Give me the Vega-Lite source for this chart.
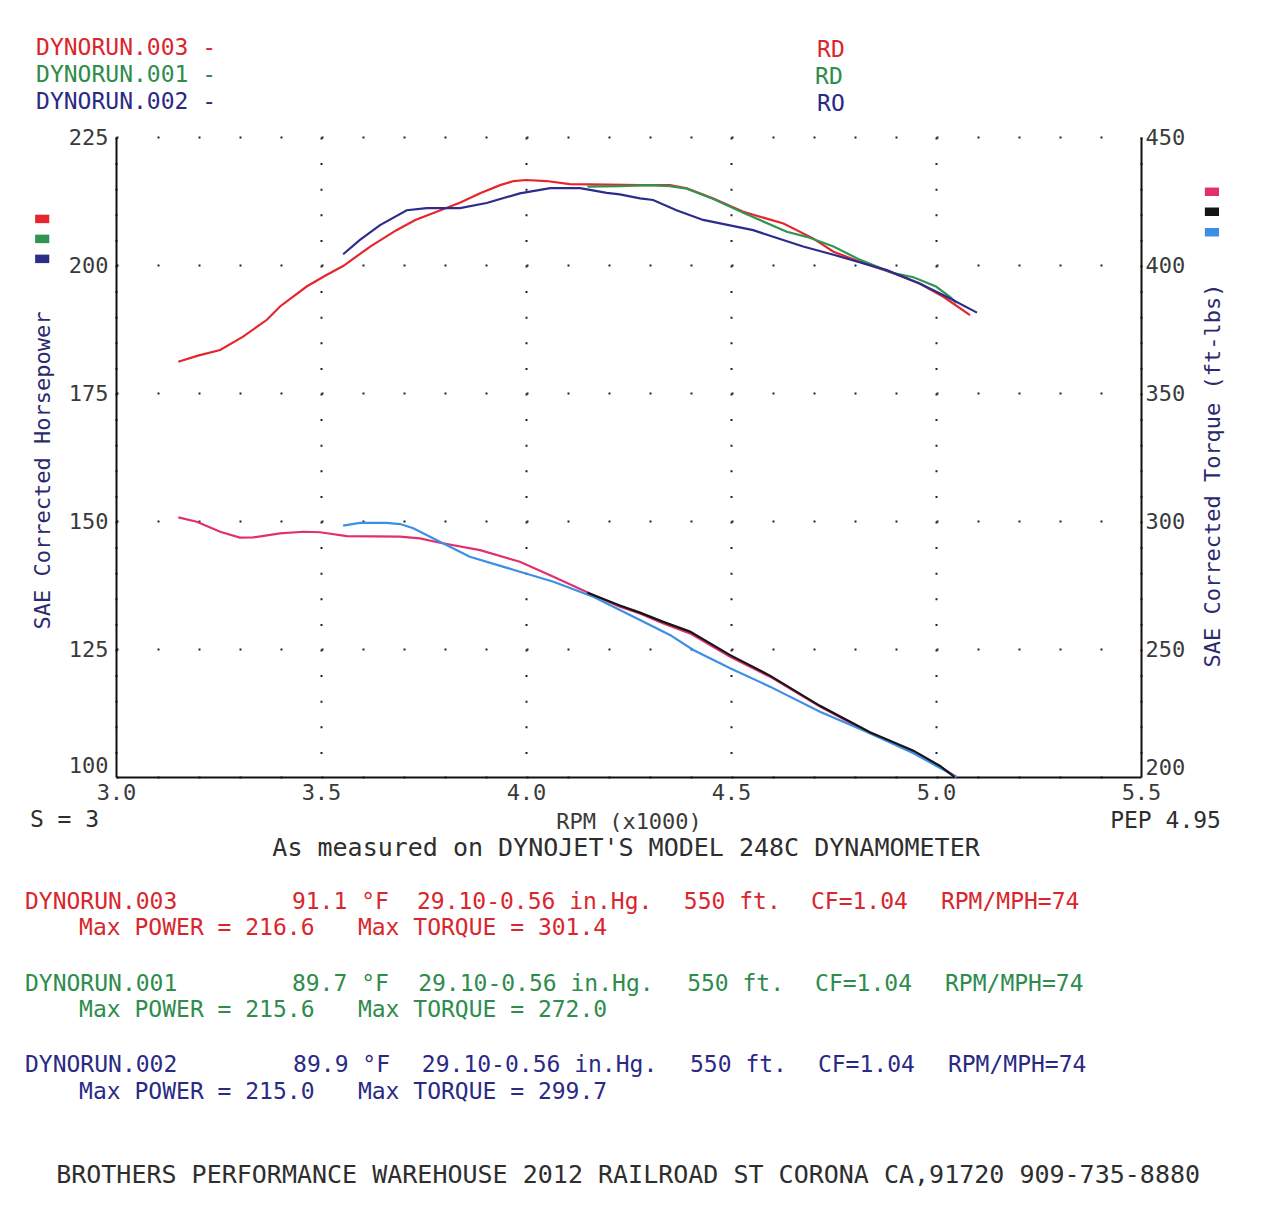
{
  "$schema": "https://vega.github.io/schema/vega-lite/v6.json",
  "width": 1025,
  "height": 640,
  "autosize": "none",
  "padding": {"left": 116, "top": 137, "right": 130, "bottom": 452},
  "background": "white",
  "config": {
    "view": {"stroke": null},
    "font": "DejaVu Sans Mono",
    "axis": {
      "labelFont": "DejaVu Sans Mono",
      "titleFont": "DejaVu Sans Mono",
      "labelFontSize": 22,
      "titleFontSize": 22,
      "titleFontWeight": "normal",
      "labelColor": "#3a3a3a",
      "titleColor": "#2a2a6e",
      "domainColor": "#111111",
      "domainWidth": 2,
      "ticks": false,
      "labelFlush": false,
      "labelOverlap": false
    }
  },
  "datasets": {
    "hp": [
      {"series": "HP 003", "rpm": 3.152, "hp": 181.1},
      {"series": "HP 003", "rpm": 3.2, "hp": 182.3},
      {"series": "HP 003", "rpm": 3.254, "hp": 183.4},
      {"series": "HP 003", "rpm": 3.31, "hp": 186.0},
      {"series": "HP 003", "rpm": 3.368, "hp": 189.3},
      {"series": "HP 003", "rpm": 3.4, "hp": 191.9},
      {"series": "HP 003", "rpm": 3.465, "hp": 195.8},
      {"series": "HP 003", "rpm": 3.51, "hp": 197.9},
      {"series": "HP 003", "rpm": 3.554, "hp": 199.8},
      {"series": "HP 003", "rpm": 3.62, "hp": 203.6},
      {"series": "HP 003", "rpm": 3.684, "hp": 206.8},
      {"series": "HP 003", "rpm": 3.73, "hp": 208.8},
      {"series": "HP 003", "rpm": 3.782, "hp": 210.4},
      {"series": "HP 003", "rpm": 3.84, "hp": 212.2},
      {"series": "HP 003", "rpm": 3.888, "hp": 214.0},
      {"series": "HP 003", "rpm": 3.937, "hp": 215.6},
      {"series": "HP 003", "rpm": 3.97, "hp": 216.4},
      {"series": "HP 003", "rpm": 4.0, "hp": 216.6},
      {"series": "HP 003", "rpm": 4.05, "hp": 216.4},
      {"series": "HP 003", "rpm": 4.107, "hp": 215.8},
      {"series": "HP 003", "rpm": 4.2, "hp": 215.7},
      {"series": "HP 003", "rpm": 4.278, "hp": 215.6},
      {"series": "HP 003", "rpm": 4.351, "hp": 215.6},
      {"series": "HP 003", "rpm": 4.392, "hp": 215.0},
      {"series": "HP 003", "rpm": 4.457, "hp": 213.0},
      {"series": "HP 003", "rpm": 4.53, "hp": 210.4},
      {"series": "HP 003", "rpm": 4.628, "hp": 208.1},
      {"series": "HP 003", "rpm": 4.7, "hp": 205.2},
      {"series": "HP 003", "rpm": 4.75, "hp": 202.6},
      {"series": "HP 003", "rpm": 4.815, "hp": 200.6},
      {"series": "HP 003", "rpm": 4.896, "hp": 198.4},
      {"series": "HP 003", "rpm": 4.96, "hp": 196.4},
      {"series": "HP 003", "rpm": 5.018, "hp": 193.8},
      {"series": "HP 003", "rpm": 5.083, "hp": 190.2},
      {"series": "HP 001", "rpm": 4.15, "hp": 215.3},
      {"series": "HP 001", "rpm": 4.23, "hp": 215.4},
      {"series": "HP 001", "rpm": 4.3, "hp": 215.6},
      {"series": "HP 001", "rpm": 4.351, "hp": 215.4},
      {"series": "HP 001", "rpm": 4.392, "hp": 214.9},
      {"series": "HP 001", "rpm": 4.457, "hp": 212.9},
      {"series": "HP 001", "rpm": 4.53, "hp": 210.2},
      {"series": "HP 001", "rpm": 4.636, "hp": 206.5},
      {"series": "HP 001", "rpm": 4.685, "hp": 205.5},
      {"series": "HP 001", "rpm": 4.75, "hp": 203.6},
      {"series": "HP 001", "rpm": 4.815, "hp": 201.0},
      {"series": "HP 001", "rpm": 4.896, "hp": 198.4},
      {"series": "HP 001", "rpm": 4.945, "hp": 197.6},
      {"series": "HP 001", "rpm": 5.0, "hp": 195.8},
      {"series": "HP 001", "rpm": 5.034, "hp": 193.8},
      {"series": "HP 001", "rpm": 5.05, "hp": 192.6},
      {"series": "HP 002", "rpm": 3.554, "hp": 202.1},
      {"series": "HP 002", "rpm": 3.595, "hp": 204.9},
      {"series": "HP 002", "rpm": 3.644, "hp": 207.8},
      {"series": "HP 002", "rpm": 3.709, "hp": 210.7},
      {"series": "HP 002", "rpm": 3.758, "hp": 211.1},
      {"series": "HP 002", "rpm": 3.839, "hp": 211.1},
      {"series": "HP 002", "rpm": 3.904, "hp": 212.1},
      {"series": "HP 002", "rpm": 3.985, "hp": 214.0},
      {"series": "HP 002", "rpm": 4.059, "hp": 215.0},
      {"series": "HP 002", "rpm": 4.132, "hp": 215.0},
      {"series": "HP 002", "rpm": 4.197, "hp": 214.1},
      {"series": "HP 002", "rpm": 4.229, "hp": 213.8},
      {"series": "HP 002", "rpm": 4.278, "hp": 213.0},
      {"series": "HP 002", "rpm": 4.31, "hp": 212.7},
      {"series": "HP 002", "rpm": 4.367, "hp": 210.7},
      {"series": "HP 002", "rpm": 4.432, "hp": 208.8},
      {"series": "HP 002", "rpm": 4.554, "hp": 206.8},
      {"series": "HP 002", "rpm": 4.676, "hp": 203.6},
      {"series": "HP 002", "rpm": 4.75, "hp": 202.0},
      {"series": "HP 002", "rpm": 4.88, "hp": 199.0},
      {"series": "HP 002", "rpm": 4.96, "hp": 196.4},
      {"series": "HP 002", "rpm": 5.026, "hp": 193.8},
      {"series": "HP 002", "rpm": 5.1, "hp": 190.7}
    ],
    "tq": [
      {"series": "TQ 003", "rpm": 3.152, "tq": 301.4},
      {"series": "TQ 003", "rpm": 3.197, "tq": 299.7},
      {"series": "TQ 003", "rpm": 3.254, "tq": 295.8},
      {"series": "TQ 003", "rpm": 3.302, "tq": 293.5},
      {"series": "TQ 003", "rpm": 3.335, "tq": 293.6},
      {"series": "TQ 003", "rpm": 3.4, "tq": 295.2},
      {"series": "TQ 003", "rpm": 3.457, "tq": 295.8},
      {"series": "TQ 003", "rpm": 3.498, "tq": 295.6},
      {"series": "TQ 003", "rpm": 3.563, "tq": 294.1},
      {"series": "TQ 003", "rpm": 3.693, "tq": 293.9},
      {"series": "TQ 003", "rpm": 3.741, "tq": 293.2},
      {"series": "TQ 003", "rpm": 3.79, "tq": 291.5},
      {"series": "TQ 003", "rpm": 3.888, "tq": 288.6},
      {"series": "TQ 003", "rpm": 3.985, "tq": 284.1},
      {"series": "TQ 003", "rpm": 4.067, "tq": 278.2},
      {"series": "TQ 003", "rpm": 4.164, "tq": 271.1},
      {"series": "TQ 003", "rpm": 4.229, "tq": 266.5},
      {"series": "TQ 003", "rpm": 4.278, "tq": 263.9},
      {"series": "TQ 003", "rpm": 4.335, "tq": 260.0},
      {"series": "TQ 003", "rpm": 4.4, "tq": 256.1},
      {"series": "TQ 003", "rpm": 4.498, "tq": 247.0},
      {"series": "TQ 003", "rpm": 4.595, "tq": 239.2},
      {"series": "TQ 003", "rpm": 4.717, "tq": 227.5},
      {"series": "TQ 003", "rpm": 4.839, "tq": 217.1},
      {"series": "TQ 003", "rpm": 4.945, "tq": 209.9},
      {"series": "TQ 003", "rpm": 5.01, "tq": 204.0},
      {"series": "TQ 003", "rpm": 5.05, "tq": 200.0},
      {"series": "TQ 002", "rpm": 3.554, "tq": 298.2},
      {"series": "TQ 002", "rpm": 3.595, "tq": 299.3},
      {"series": "TQ 002", "rpm": 3.66, "tq": 299.3},
      {"series": "TQ 002", "rpm": 3.693, "tq": 298.8},
      {"series": "TQ 002", "rpm": 3.725, "tq": 297.2},
      {"series": "TQ 002", "rpm": 3.79, "tq": 291.9},
      {"series": "TQ 002", "rpm": 3.863, "tq": 286.0},
      {"series": "TQ 002", "rpm": 3.985, "tq": 280.2},
      {"series": "TQ 002", "rpm": 4.067, "tq": 276.3},
      {"series": "TQ 002", "rpm": 4.164, "tq": 270.4},
      {"series": "TQ 002", "rpm": 4.229, "tq": 265.2},
      {"series": "TQ 002", "rpm": 4.278, "tq": 261.3},
      {"series": "TQ 002", "rpm": 4.351, "tq": 255.5},
      {"series": "TQ 002", "rpm": 4.408, "tq": 249.6},
      {"series": "TQ 002", "rpm": 4.498, "tq": 242.5},
      {"series": "TQ 002", "rpm": 4.595, "tq": 235.3},
      {"series": "TQ 002", "rpm": 4.717, "tq": 225.5},
      {"series": "TQ 002", "rpm": 4.839, "tq": 217.1},
      {"series": "TQ 002", "rpm": 4.945, "tq": 209.3},
      {"series": "TQ 002", "rpm": 5.05, "tq": 200.0},
      {"series": "TQ 001", "rpm": 4.15, "tq": 272.0},
      {"series": "TQ 001", "rpm": 4.229, "tq": 267.0},
      {"series": "TQ 001", "rpm": 4.278, "tq": 264.2},
      {"series": "TQ 001", "rpm": 4.335, "tq": 260.6},
      {"series": "TQ 001", "rpm": 4.4, "tq": 256.8},
      {"series": "TQ 001", "rpm": 4.498, "tq": 247.6},
      {"series": "TQ 001", "rpm": 4.595, "tq": 239.6},
      {"series": "TQ 001", "rpm": 4.717, "tq": 227.8},
      {"series": "TQ 001", "rpm": 4.839, "tq": 217.5},
      {"series": "TQ 001", "rpm": 4.945, "tq": 210.3},
      {"series": "TQ 001", "rpm": 5.01, "tq": 204.3},
      {"series": "TQ 001", "rpm": 5.045, "tq": 200.0}
    ],
    "keys": [
      {"series": "HP 003", "rpm": 2.82, "hp": 209.0},
      {"series": "HP 001", "rpm": 2.82, "hp": 205.1},
      {"series": "HP 002", "rpm": 2.82, "hp": 201.2},
      {"series": "TQ 003", "rpm": 5.673, "hp": 214.3},
      {"series": "TQ 001", "rpm": 5.673, "hp": 210.4},
      {"series": "TQ 002", "rpm": 5.673, "hp": 206.4}
    ],
    "notesLeft": [
      {"series": "RUN 003", "text": "DYNORUN.003  -", "rpm": 2.805, "hp": 242.4},
      {"series": "RUN 001", "text": "DYNORUN.001  -", "rpm": 2.805, "hp": 237.1},
      {"series": "RUN 002", "text": "DYNORUN.002  -", "rpm": 2.805, "hp": 231.8},
      {"series": "RUN 003", "text": "RD", "rpm": 4.71, "hp": 242.0},
      {"series": "RUN 001", "text": "RD", "rpm": 4.705, "hp": 236.7},
      {"series": "RUN 002", "text": "RO", "rpm": 4.71, "hp": 231.4},
      {"series": "NOTE", "text": "S = 3", "rpm": 2.79, "hp": 91.6},
      {"series": "RUN 003", "text": "DYNORUN.003", "rpm": 2.778, "hp": 75.6},
      {"series": "RUN 003", "text": "91.1 °F", "rpm": 3.429, "hp": 75.6},
      {"series": "RUN 003", "text": "29.10-0.56 in.Hg.", "rpm": 3.734, "hp": 75.6},
      {"series": "RUN 003", "text": "550 ft.", "rpm": 4.385, "hp": 75.6},
      {"series": "RUN 003", "text": "CF=1.04", "rpm": 4.695, "hp": 75.6},
      {"series": "RUN 003", "text": "RPM/MPH=74", "rpm": 5.012, "hp": 75.6},
      {"series": "RUN 003", "text": "Max POWER = 216.6", "rpm": 2.91, "hp": 70.5},
      {"series": "RUN 003", "text": "Max TORQUE = 301.4", "rpm": 3.59, "hp": 70.5},
      {"series": "RUN 001", "text": "DYNORUN.001", "rpm": 2.778, "hp": 59.6},
      {"series": "RUN 001", "text": "89.7 °F", "rpm": 3.429, "hp": 59.6},
      {"series": "RUN 001", "text": "29.10-0.56 in.Hg.", "rpm": 3.737, "hp": 59.6},
      {"series": "RUN 001", "text": "550 ft.", "rpm": 4.393, "hp": 59.6},
      {"series": "RUN 001", "text": "CF=1.04", "rpm": 4.705, "hp": 59.6},
      {"series": "RUN 001", "text": "RPM/MPH=74", "rpm": 5.022, "hp": 59.6},
      {"series": "RUN 001", "text": "Max POWER = 215.6", "rpm": 2.91, "hp": 54.5},
      {"series": "RUN 001", "text": "Max TORQUE = 272.0", "rpm": 3.59, "hp": 54.5},
      {"series": "RUN 002", "text": "DYNORUN.002", "rpm": 2.778, "hp": 43.75},
      {"series": "RUN 002", "text": "89.9 °F", "rpm": 3.432, "hp": 43.75},
      {"series": "RUN 002", "text": "29.10-0.56 in.Hg.", "rpm": 3.746, "hp": 43.75},
      {"series": "RUN 002", "text": "550 ft.", "rpm": 4.4, "hp": 43.75},
      {"series": "RUN 002", "text": "CF=1.04", "rpm": 4.712, "hp": 43.75},
      {"series": "RUN 002", "text": "RPM/MPH=74", "rpm": 5.029, "hp": 43.75},
      {"series": "RUN 002", "text": "Max POWER = 215.0", "rpm": 2.91, "hp": 38.5},
      {"series": "RUN 002", "text": "Max TORQUE = 299.7", "rpm": 3.59, "hp": 38.5}
    ],
    "notesCenter": [
      {"series": "NOTE", "text": "As measured on DYNOJET'S MODEL 248C DYNAMOMETER", "rpm": 4.244, "hp": 86.1},
      {"series": "NOTE", "text": "BROTHERS PERFORMANCE WAREHOUSE 2012 RAILROAD ST CORONA CA,91720 909-735-8880", "rpm": 4.249, "hp": 22.3}
    ],
    "notesRight": [
      {"series": "NOTE", "text": "PEP 4.95", "rpm": 5.695, "hp": 91.4}
    ]
  },
  "layer": [
    {
      "layer": [
        {
          "data": {"name": "hp"},
          "mark": {"type": "line", "strokeWidth": 2.2, "interpolate": "linear"},
          "encoding": {
            "x": {
              "field": "rpm", "type": "quantitative",
              "scale": {"domain": [3, 5.5], "nice": false, "zero": false},
              "axis": {
                "values": [3, 3.5, 4, 4.5, 5, 5.5], "format": ".1f",
                "grid": true, "gridDash": [2, 23.6], "gridColor": "#222222", "gridWidth": 2,
                "labelPadding": 5, "labelColor": "#3a3a3a",
                "title": "RPM (x1000)", "titlePadding": 8, "titleColor": "#3a3a3a"
              }
            },
            "y": {
              "field": "hp", "type": "quantitative",
              "scale": {"domain": [100, 225], "nice": false, "zero": false},
              "axis": {
                "values": [100, 125, 150, 175, 200, 225],
                "grid": true, "gridDash": [2, 39], "gridColor": "#222222", "gridWidth": 2,
                "labelPadding": 8,
                "labelOffset": {"condition": {"test": "datum.value === 100", "value": -12}, "value": 0},
                "title": "SAE Corrected Horsepower", "titlePadding": 14, "titleY": 333
              }
            },
            "color": {
              "field": "series", "type": "nominal", "legend": null,
              "scale": {
                "domain": ["HP 003", "HP 001", "HP 002", "TQ 003", "TQ 001", "TQ 002", "RUN 003", "RUN 001", "RUN 002", "NOTE"],
                "range": ["#e5262c", "#2f9652", "#2c2c8c", "#e0306e", "#151515", "#3b8fe6", "#d9262d", "#2e8c4c", "#2a2a86", "#2e2e2e"]
              }
            }
          }
        },
        {
          "data": {"name": "keys"},
          "mark": {"type": "point", "shape": "M-1,-0.6L1,-0.6L1,0.6L-1,0.6Z", "filled": true, "size": 200, "opacity": 1},
          "encoding": {
            "x": {"field": "rpm", "type": "quantitative", "scale": {"domain": [3, 5.5], "nice": false, "zero": false}},
            "y": {"field": "hp", "type": "quantitative", "scale": {"domain": [100, 225], "nice": false, "zero": false}},
            "color": {"field": "series", "type": "nominal", "legend": null}
          }
        },
        {
          "data": {"name": "notesLeft"},
          "mark": {"type": "text", "align": "left", "baseline": "middle", "font": "DejaVu Sans Mono", "fontSize": 23},
          "encoding": {
            "x": {"field": "rpm", "type": "quantitative", "scale": {"domain": [3, 5.5], "nice": false, "zero": false}},
            "y": {"field": "hp", "type": "quantitative", "scale": {"domain": [100, 225], "nice": false, "zero": false}},
            "color": {"field": "series", "type": "nominal", "legend": null},
            "text": {"field": "text"}
          }
        },
        {
          "data": {"name": "notesCenter"},
          "mark": {"type": "text", "align": "center", "baseline": "middle", "font": "DejaVu Sans Mono", "fontSize": 25},
          "encoding": {
            "x": {"field": "rpm", "type": "quantitative", "scale": {"domain": [3, 5.5], "nice": false, "zero": false}},
            "y": {"field": "hp", "type": "quantitative", "scale": {"domain": [100, 225], "nice": false, "zero": false}},
            "color": {"field": "series", "type": "nominal", "legend": null},
            "text": {"field": "text"}
          }
        },
        {
          "data": {"name": "notesRight"},
          "mark": {"type": "text", "align": "right", "baseline": "middle", "font": "DejaVu Sans Mono", "fontSize": 23},
          "encoding": {
            "x": {"field": "rpm", "type": "quantitative", "scale": {"domain": [3, 5.5], "nice": false, "zero": false}},
            "y": {"field": "hp", "type": "quantitative", "scale": {"domain": [100, 225], "nice": false, "zero": false}},
            "color": {"field": "series", "type": "nominal", "legend": null},
            "text": {"field": "text"}
          }
        }
      ]
    },
    {
      "data": {"name": "tq"},
      "mark": {"type": "line", "strokeWidth": 2.2},
      "encoding": {
        "x": {"field": "rpm", "type": "quantitative", "scale": {"domain": [3, 5.5], "nice": false, "zero": false}},
        "y": {
          "field": "tq", "type": "quantitative",
          "scale": {"domain": [200, 450], "nice": false, "zero": false},
          "axis": {
            "orient": "right",
            "values": [200, 250, 300, 350, 400, 450],
            "grid": false, "labelPadding": 4,
            "labelOffset": {"condition": {"test": "datum.value === 200", "value": -10}, "value": 0},
            "title": "SAE Corrected Torque (ft-lbs)", "titleAngle": 270, "titleBaseline": "top",
            "titlePadding": 18, "titleY": 338
          }
        },
        "color": {"field": "series", "type": "nominal", "legend": null}
      }
    }
  ],
  "resolve": {"scale": {"y": "independent"}}
}
